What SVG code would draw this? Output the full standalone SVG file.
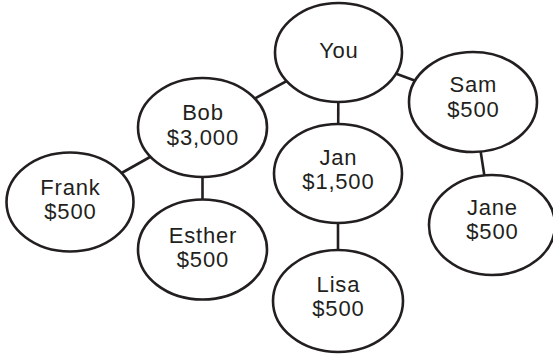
<svg xmlns="http://www.w3.org/2000/svg" width="553" height="354" viewBox="0 0 553 354">
<style>
.n ellipse{fill:#fff;stroke:#231f20;stroke-width:2.6}
.n text{font-family:"Liberation Sans",Arial,sans-serif;font-size:22px;letter-spacing:0.8px;fill:#231f20;text-anchor:middle}
#connectors line{stroke:#231f20;stroke-width:2.6}
</style>
<rect width="553" height="354" fill="#fff"/>
<g id="connectors">
<line x1="338.5" y1="52.5" x2="202.5" y2="127.5"/>
<line x1="338.5" y1="52.5" x2="338" y2="173.5"/>
<line x1="338.5" y1="52.5" x2="473" y2="102"/>
<line x1="473" y1="102" x2="492" y2="225"/>
<line x1="202.5" y1="127.5" x2="70" y2="202"/>
<line x1="202.5" y1="127.5" x2="202.5" y2="249.5"/>
<line x1="338" y1="173.5" x2="338" y2="301"/>
</g>
<g id="you" class="n"><ellipse cx="338.5" cy="52.5" rx="63.5" ry="49.5"/><text x="338.9" y="57.5">You</text></g>
<g id="bob" class="n"><ellipse cx="202.5" cy="127.5" rx="64.5" ry="49.5"/><text x="202.9" y="120">Bob</text><text x="202.9" y="145">$3,000</text></g>
<g id="sam" class="n"><ellipse cx="473" cy="102" rx="64" ry="50"/><text x="473.4" y="92">Sam</text><text x="473.4" y="116.5">$500</text></g>
<g id="jan" class="n"><ellipse cx="338" cy="173.5" rx="64" ry="49.5"/><text x="338.4" y="165">Jan</text><text x="338.4" y="189">$1,500</text></g>
<g id="frank" class="n"><ellipse cx="70" cy="202" rx="63.5" ry="49.5"/><text x="70.4" y="195">Frank</text><text x="70.4" y="219">$500</text></g>
<g id="esther" class="n"><ellipse cx="202.5" cy="249.5" rx="64.5" ry="50"/><text x="202.9" y="242.5">Esther</text><text x="202.9" y="266.5">$500</text></g>
<g id="lisa" class="n"><ellipse cx="338" cy="301" rx="65" ry="51"/><text x="338.4" y="292">Lisa</text><text x="338.4" y="316">$500</text></g>
<g id="jane" class="n"><ellipse cx="492" cy="225" rx="63" ry="50"/><text x="492.4" y="214.5">Jane</text><text x="492.4" y="238.5">$500</text></g>
</svg>
